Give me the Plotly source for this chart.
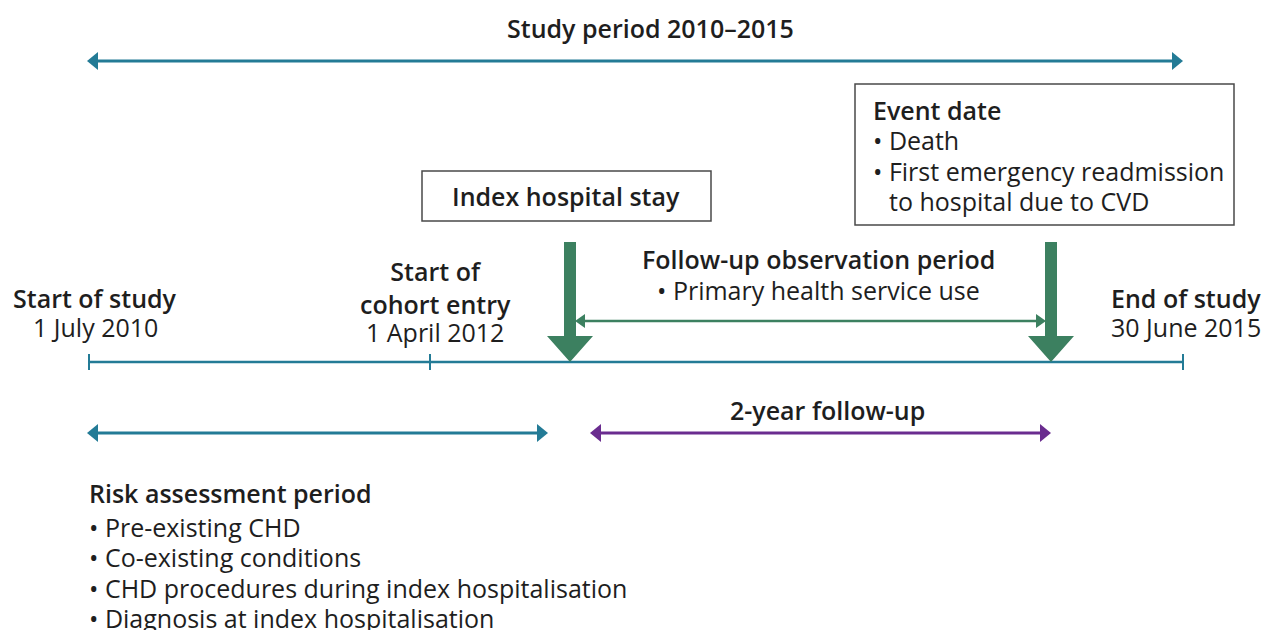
import plotly.graph_objects as go

# === DATA (diagram positions along the timeline, in canvas units) ===
timeline_y = 362
tick_x = [89, 430, 1183]

milestone_x = [95, 435, 1186]
milestone_title = ["Start of study", "Start of<br>cohort entry", "End of study"]
milestone_title_y = [298, 287, 298]
milestone_date = ["1 July 2010", "1 April 2012", "30 June 2015"]
milestone_date_y = [327, 332, 327]

# horizontal arrows: (left tip, right tip, y, colour key)
arrow_x0 = [87, 575, 87, 590]
arrow_x1 = [1183, 1046, 548, 1051]
arrow_y = [61, 321, 433, 433]
arrow_col = ["teal", "green", "teal", "purple"]

# big down arrows
event_x = [570, 1051]
event_top = 242

risk_items = ["Pre-existing CHD", "Co-existing conditions",
              "CHD procedures during index hospitalisation",
              "Diagnosis at index hospitalisation"]
event_items = ["Death", "First emergency readmission", "to hospital due to CVD"]

COL = {"teal": "#237b96", "green": "#3c8060", "purple": "#6a2c8f"}
TXT = "#1e1e1e"
FONT = "Open Sans"
FS = 25
OFF = 8  # page body margin

fig = go.Figure()
shapes = []
ann = []


def text(x, y, s, bold=False, xanchor="center", size=FS):
    ann.append(dict(x=x, y=y, text=s, showarrow=False, xanchor=xanchor, yanchor="middle",
                    font=dict(family=FONT, size=size, color=TXT, weight=600 if bold else 400)))


def tri(tip_x, tip_y, dx, half, col):
    # dx>0 means head points left
    path = f"M{tip_x},{tip_y} L{tip_x + dx},{tip_y - half} L{tip_x + dx},{tip_y + half} Z"
    shapes.append(dict(type="path", path=path, fillcolor=col, line=dict(width=0)))


# horizontal double arrows
for x0, x1, y, c in zip(arrow_x0, arrow_x1, arrow_y, arrow_col):
    col = COL[c]
    head = 10 if c == "green" else 11
    half = 7 if c == "green" else 9
    lw = 2.5 if c == "green" else 3
    shapes.append(dict(type="line", x0=x0 + head, x1=x1 - head, y0=y, y1=y,
                       line=dict(color=col, width=lw)))
    tri(x0, y, head, half, col)
    tri(x1, y, -head, half, col)

# timeline + ticks
shapes.append(dict(type="line", x0=tick_x[0], x1=tick_x[-1], y0=timeline_y, y1=timeline_y,
                   line=dict(color=COL["teal"], width=2.5)))
for tx in tick_x:
    shapes.append(dict(type="line", x0=tx, x1=tx, y0=timeline_y - 8, y1=timeline_y + 8,
                       line=dict(color=COL["teal"], width=2)))

# big green down arrows
for ex in event_x:
    sw, hw, hh = 6, 23, 26
    hy = timeline_y - hh
    path = (f"M{ex - sw},{event_top} L{ex + sw},{event_top} L{ex + sw},{hy} L{ex + hw},{hy} "
            f"L{ex},{timeline_y} L{ex - hw},{hy} L{ex - sw},{hy} Z")
    shapes.append(dict(type="path", path=path, fillcolor=COL["green"], line=dict(width=0)))

# boxes
shapes.append(dict(type="rect", x0=422, x1=711, y0=171, y1=221,
                   line=dict(color="#4a4a4a", width=1.5)))
shapes.append(dict(type="rect", x0=855, x1=1234, y0=84, y1=225,
                   line=dict(color="#4a4a4a", width=1.5)))

# texts
text(650, 28, "Study period 2010–2015", bold=True)
text(566, 196, "Index hospital stay", bold=True)
text(871, 110, "Event date", bold=True, xanchor="left")
text(871, 140, "• " + event_items[0], xanchor="left")
text(871, 171, "• " + event_items[1], xanchor="left")
text(887, 201, event_items[2], xanchor="left")

text(818, 259, "Follow-up observation period", bold=True)
text(818, 290, "• Primary health service use")

for mx, t, ty, d, dy in zip(milestone_x, milestone_title, milestone_title_y, milestone_date, milestone_date_y):
    text(mx, ty, t, bold=True)
    text(mx, dy, d)

text(827, 410, "2-year follow-up", bold=True)
text(87, 493, "Risk assessment period", bold=True, xanchor="left")
for i, item in enumerate(risk_items):
    text(87, 527 + i * 30.3, "• " + item, xanchor="left")

fig.update_layout(
    width=1270 - OFF, height=630 - OFF,
    margin=dict(l=0, r=0, t=0, b=0),
    paper_bgcolor="white", plot_bgcolor="white",
    xaxis=dict(range=[OFF, 1270], visible=False, fixedrange=True),
    yaxis=dict(range=[630, OFF], visible=False, fixedrange=True),
    shapes=shapes, annotations=ann, showlegend=False,
)

fig.write_html("out.html")
